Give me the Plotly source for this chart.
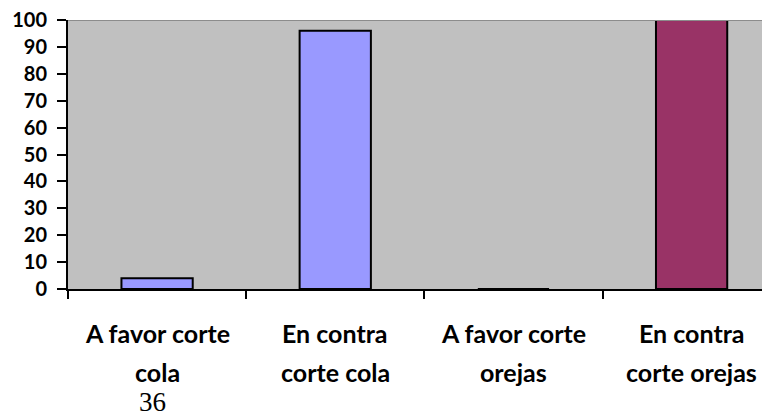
import plotly.graph_objects as go

categories = ["A favor corte cola", "En contra corte cola", "A favor corte orejas", "En contra corte orejas"]
label_line1 = ["A favor corte", "En contra", "A favor corte", "En contra"]
label_line2 = ["cola", "corte cola", "orejas", "corte orejas"]
values = [4, 96, 0, 100]
colors = ["#9999FF", "#9999FF", "#9999FF", "#993366"]
y_ticks = list(range(0, 101, 10))
page_number = "36"

FONT = "Lato"

fig = go.Figure()
fig.add_trace(go.Bar(
    x=categories, y=values, width=0.4,
    marker=dict(color=colors, line=dict(color="black", width=2)),
    showlegend=False,
))

# the page body adds an 8px offset, so the figure is 8px smaller and margins shifted
fig.update_layout(
    width=762, height=409,
    margin=dict(l=60, r=0, t=12, b=128),
    paper_bgcolor="white", plot_bgcolor="#C0C0C0",
    bargap=0.6,
    font=dict(family=FONT, color="black"),
)
fig.update_xaxes(
    type="category", range=[-0.5, 3.44], tickson="boundaries", automargin=False,
    showticklabels=False, ticks="outside", ticklen=8, tickwidth=2, tickcolor="black",
    showline=True, linecolor="black", linewidth=2, showgrid=False, zeroline=False,
)
fig.update_yaxes(
    range=[0, 100], tickvals=y_ticks, ticktext=[str(v) for v in y_ticks], automargin=False,
    ticks="outside", ticklen=9, tickwidth=2, tickcolor="black",
    showline=True, linecolor="black", linewidth=2, showgrid=False, zeroline=False,
    tickfont=dict(family=FONT, size=20, color="black", weight="bold"),
    ticklabelstandoff=6, ticklabeloverflow="allow",
)
fig.add_shape(type="line", xref="paper", yref="y", x0=0, x1=1, y0=100, y1=100,
              line=dict(color="#8C8C8C", width=2))

for cat, l1, l2 in zip(categories, label_line1, label_line2):
    fig.add_annotation(x=cat, xref="x", y=-0.1654, yref="paper", text=l1, showarrow=False,
                       font=dict(family=FONT, size=25, weight="bold"), yanchor="middle", xanchor="center")
    fig.add_annotation(x=cat, xref="x", y=-0.3067, yref="paper", text=l2, showarrow=False,
                       font=dict(family=FONT, size=25, weight="bold"), yanchor="middle", xanchor="center")

fig.add_annotation(x=0.121, xref="paper", y=-0.42, yref="paper", text=page_number, showarrow=False,
                   font=dict(family="Liberation Serif", size=27), xanchor="center", yanchor="middle")

fig.write_html("out.html")
